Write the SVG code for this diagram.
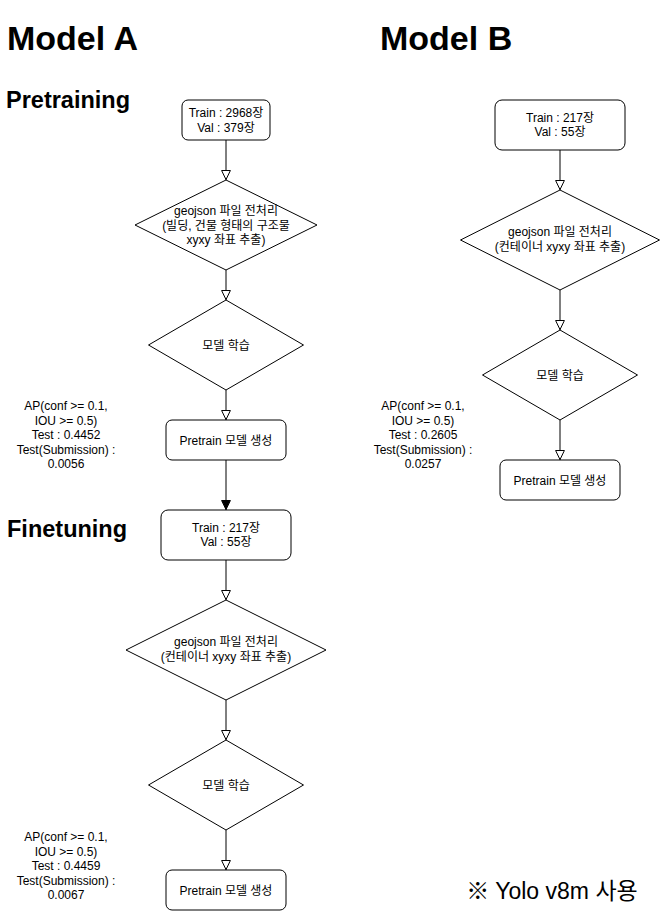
<svg xmlns="http://www.w3.org/2000/svg" width="660" height="911" viewBox="0 0 660 911">
<style>
text{font-family:"Liberation Sans","Noto Sans CJK KR",sans-serif;fill:#000}
.t{font-size:12px;text-anchor:middle}
.h1{font-size:34px;font-weight:bold}
.h2{font-size:23.5px;font-weight:bold}
.shape{fill:#fff;stroke:#000;stroke-width:1}
.edge{fill:none;stroke:#000;stroke-width:1}
.open{marker-end:url(#openArrow)}
.filled{marker-end:url(#fillArrow)}
</style>
<defs>
<marker id="openArrow" viewBox="0 0 10 10" markerWidth="10" markerHeight="10" refX="10" refY="5" orient="auto" markerUnits="userSpaceOnUse">
<path d="M0.5,0.6 L9.6,5 L0.5,9.4 Z" fill="#fff" stroke="#000" stroke-width="1"/>
</marker>
<marker id="fillArrow" viewBox="0 0 10 10" markerWidth="10" markerHeight="10" refX="10" refY="5" orient="auto" markerUnits="userSpaceOnUse">
<path d="M0.5,0.6 L9.6,5 L0.5,9.4 Z" fill="#000" stroke="#000" stroke-width="1"/>
</marker>
</defs>

<g id="titles">
<text class="h1" x="7" y="50">Model A</text>
<text class="h1" x="380" y="50">Model B</text>
<text class="h2" x="6" y="108">Pretraining</text>
<text class="h2" x="7" y="537">Finetuning</text>
</g>

<g id="connectors">
<path class="edge open" d="M226,140 V180"/>
<path class="edge open" d="M226,270 V300"/>
<path class="edge open" d="M226,390 V420"/>
<path class="edge filled" d="M226,460 V510"/>
<path class="edge open" d="M226,560 V600"/>
<path class="edge open" d="M226,700 V740"/>
<path class="edge open" d="M226,830 V870"/>
<path class="edge open" d="M560,150 V190"/>
<path class="edge open" d="M560,290 V330"/>
<path class="edge open" d="M560,420 V460"/>
</g>

<g id="a-data">
<rect class="shape" x="182" y="100" width="88" height="40" rx="6"/>
<text class="t" x="226" y="117">Train : 2968장</text>
<text class="t" x="226" y="131.5">Val : 379장</text>
</g>
<g id="a-preprocess">
<polygon class="shape" points="226,180 317,225 226,270 135,225"/>
<text class="t" x="226" y="215">geojson 파일 전처리</text>
<text class="t" x="226" y="229.5">(빌딩, 건물 형태의 구조물</text>
<text class="t" x="226" y="244">xyxy 좌표 추출)</text>
</g>
<g id="a-train">
<polygon class="shape" points="226,300 303.5,345 226,390 148.5,345"/>
<text class="t" x="226" y="349.5">모델 학습</text>
</g>
<g id="a-model">
<rect class="shape" x="166" y="420" width="120" height="40" rx="6"/>
<text class="t" x="226" y="444.5">Pretrain 모델 생성</text>
</g>
<g id="a-result">
<text class="t" x="66" y="410">AP(conf &gt;= 0.1,</text>
<text class="t" x="66" y="424.5">IOU &gt;= 0.5)</text>
<text class="t" x="66" y="439">Test : 0.4452</text>
<text class="t" x="66" y="453.5">Test(Submission) :</text>
<text class="t" x="66" y="468">0.0056</text>
</g>

<g id="a-ft-data">
<rect class="shape" x="161" y="510" width="130" height="50" rx="7"/>
<text class="t" x="226" y="531.5">Train : 217장</text>
<text class="t" x="226" y="546">Val : 55장</text>
</g>
<g id="a-ft-preprocess">
<polygon class="shape" points="226,600 326,650 226,700 126,650"/>
<text class="t" x="226" y="646">geojson 파일 전처리</text>
<text class="t" x="226" y="660.5">(컨테이너 xyxy 좌표 추출)</text>
</g>
<g id="a-ft-train">
<polygon class="shape" points="226,740 303.5,785 226,830 148.5,785"/>
<text class="t" x="226" y="789.5">모델 학습</text>
</g>
<g id="a-ft-model">
<rect class="shape" x="166" y="870" width="120" height="40" rx="6"/>
<text class="t" x="226" y="894.5">Pretrain 모델 생성</text>
</g>
<g id="a-ft-result">
<text class="t" x="66" y="841">AP(conf &gt;= 0.1,</text>
<text class="t" x="66" y="855.5">IOU &gt;= 0.5)</text>
<text class="t" x="66" y="870">Test : 0.4459</text>
<text class="t" x="66" y="884.5">Test(Submission) :</text>
<text class="t" x="66" y="899">0.0067</text>
</g>

<g id="b-data">
<rect class="shape" x="495" y="100" width="130" height="50" rx="7"/>
<text class="t" x="560" y="121.5">Train : 217장</text>
<text class="t" x="560" y="136">Val : 55장</text>
</g>
<g id="b-preprocess">
<polygon class="shape" points="560,190 659.5,240 560,290 460.5,240"/>
<text class="t" x="560" y="236">geojson 파일 전처리</text>
<text class="t" x="560" y="250.5">(컨테이너 xyxy 좌표 추출)</text>
</g>
<g id="b-train">
<polygon class="shape" points="560,330 637.5,375 560,420 482.5,375"/>
<text class="t" x="560" y="379.5">모델 학습</text>
</g>
<g id="b-model">
<rect class="shape" x="500" y="460" width="120" height="40" rx="6"/>
<text class="t" x="560" y="484.5">Pretrain 모델 생성</text>
</g>
<g id="b-result">
<text class="t" x="423" y="410">AP(conf &gt;= 0.1,</text>
<text class="t" x="423" y="424.5">IOU &gt;= 0.5)</text>
<text class="t" x="423" y="439">Test : 0.2605</text>
<text class="t" x="423" y="453.5">Test(Submission) :</text>
<text class="t" x="423" y="468">0.0257</text>
</g>

<g id="note">
<text x="552" y="899" style="font-size:23px;text-anchor:middle">※ Yolo v8m 사용</text>
</g>
</svg>
